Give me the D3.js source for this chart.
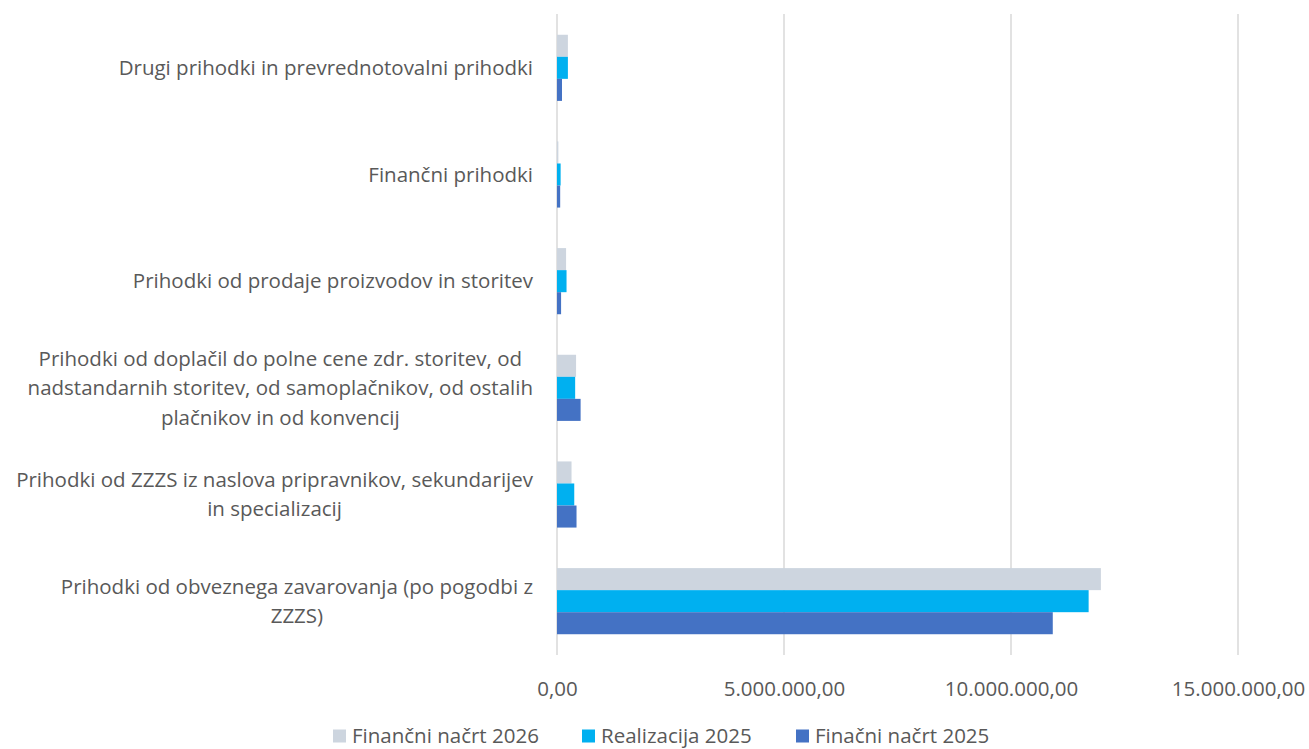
<!DOCTYPE html>
<html>
<head>
<meta charset="utf-8">
<script src="https://cdn.jsdelivr.net/npm/d3@7"></script>
<style>
  html, body { margin: 0; padding: 0; background: #ffffff; }
  svg { display: block; }
  text { font-family: "Open Sans", "Noto Sans", sans-serif; fill: #595959; }
</style>
</head>
<body>
<svg id="chart" width="1309" height="749"></svg>
<script>
// ---- data ----
const categories = [
  "Drugi prihodki in prevrednotovalni prihodki",
  "Finančni prihodki",
  "Prihodki od prodaje proizvodov in storitev",
  "Prihodki od doplačil do polne cene zdr. storitev, od|nadstandarnih storitev, od samoplačnikov, od ostalih|plačnikov in od konvencij",
  "Prihodki od ZZZS iz naslova pripravnikov, sekundarijev|in specializacij",
  "Prihodki od obveznega zavarovanja (po pogodbi z|ZZZS)"
];
const seriesNames = ["Finančni načrt 2026", "Realizacija 2025", "Finačni načrt 2025"];
const financniNacrt2026 = [240000, 30000, 200000, 420000, 320000, 11980000];
const realizacija2025   = [240000, 80000, 210000, 400000, 380000, 11710000];
const finacniNacrt2025  = [110000, 70000, 90000, 520000, 430000, 10920000];
const xTicks = [0, 5000000, 10000000, 15000000];
const seriesColors = ["#cdd5df", "#00b0f0", "#4472c4"];

const seriesValues = [financniNacrt2026, realizacija2025, finacniNacrt2025];

// ---- layout ----
const FS = 20.5;
const svg = d3.select("#chart");
const x = d3.scaleLinear().domain([0, 15000000]).range([557, 1238]);
const y = d3.scaleBand().domain(d3.range(categories.length)).range([14.5, 654.5])
  .paddingInner(0.38).paddingOuter(0.19);
const ys = d3.scaleBand().domain(d3.range(seriesNames.length)).range([0, y.bandwidth()]);

const loc = d3.formatLocale({decimal: ",", thousands: ".", grouping: [3], currency: ["", ""]});
const fmt = loc.format(",.2f");

// gridlines
svg.append("g")
  .selectAll("line").data(xTicks).join("line")
  .attr("x1", d => x(d)).attr("x2", d => x(d))
  .attr("y1", 14).attr("y2", 655)
  .attr("stroke", "#d9d9d9").attr("stroke-width", 1.5);

// x tick labels via axis
const xAxis = svg.append("g").attr("transform", "translate(0,689)")
  .call(d3.axisBottom(x).tickValues(xTicks).tickFormat(fmt).tickSize(0).tickPadding(0));
xAxis.select(".domain").remove();
xAxis.selectAll("text").attr("font-size", FS).attr("y", 0).attr("dy", "0.35em")
  .style("font-family", '"Open Sans", sans-serif').attr("fill", "#595959");

// bars
const groups = svg.append("g").selectAll("g").data(categories).join("g")
  .attr("transform", (d, i) => `translate(0,${y(i)})`);
groups.selectAll("rect")
  .data((d, i) => seriesValues.map((s, k) => ({k, v: s[i]})))
  .join("rect")
  .attr("x", x(0))
  .attr("y", d => ys(d.k))
  .attr("width", d => x(d.v) - x(0))
  .attr("height", ys.bandwidth())
  .attr("fill", d => seriesColors[d.k]);

// category labels (block right-aligned, lines centered within block)
const lineH = 29.5;
const labelRight = 533;
categories.forEach((c, i) => {
  const lines = c.split("|");
  const g = svg.append("g");
  const cy = y(i) + y.bandwidth() / 2;
  const texts = lines.map((ln, j) => g.append("text")
    .attr("font-size", FS)
    .attr("y", cy + (j - (lines.length - 1) / 2) * lineH)
    .attr("dy", "0.35em")
    .text(ln));
  const widths = texts.map(t => t.node().getComputedTextLength());
  const maxW = d3.max(widths);
  const center = labelRight - maxW / 2;
  texts.forEach(t => t.attr("x", center).attr("text-anchor", "middle"));
});

// legend
const legendX = [333, 582, 796];
const leg = svg.append("g").selectAll("g").data(seriesNames).join("g")
  .attr("transform", (d, i) => `translate(${legendX[i]},736)`);
leg.append("rect").attr("x", 0).attr("y", -6.5).attr("width", 13).attr("height", 13)
  .attr("fill", (d, i) => seriesColors[i]);
leg.append("text").attr("x", 19).attr("dy", "0.35em").attr("font-size", FS).text(d => d);
</script>
</body>
</html>
